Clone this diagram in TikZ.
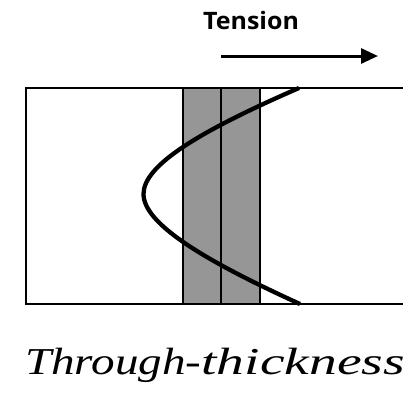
\documentclass[tikz,border=0pt]{standalone}
\usepackage{fontspec}
\setmainfont{Liberation Serif}
\newfontfamily\tensionfont[FakeStretch=1.04]{Open Sans}
\newfontfamily\captionfont[FakeStretch=1.24]{Liberation Serif}
\newfontfamily\captionwide[FakeStretch=1.46]{Liberation Serif}
\usetikzlibrary{arrows.meta}
\definecolor{stripgray}{RGB}{150,150,150}
\tikzset{
  frame/.style={draw=black, line width=2pt},
  strip/.style={draw=black, fill=stripgray, line width=2pt},
  stresscurve/.style={draw=black, line width=4.3pt},
  tensionarrow/.style={draw=black, line width=3pt, -{Triangle[length=17pt,width=15pt]}},
}
\begin{document}
\begin{tikzpicture}[x=1pt,y=-1pt]
\useasboundingbox (0,0) rectangle (403,397);
\clip (0,0) rectangle (403,397);
% strips
\path[strip] (183,88) rectangle (221,304);
\path[strip] (221,88) rectangle (260,304);
% frame
\draw[frame] (410,88) -- (26,88) -- (26,304) -- (410,304);
% curve
\coordinate (ctop) at (299,88);
\coordinate (cvertex) at (143.5,194);
\coordinate (cbottom) at (300,304);
\draw[stresscurve, line cap=butt] (ctop) .. controls (200,131) and (143.5,165) .. (cvertex)
  .. controls (143.5,223) and (201,259) .. (cbottom);
% tension label and arrow
\node[font=\tensionfont\bfseries\fontsize{24}{28}\selectfont, anchor=base west, inner sep=0pt] (tension) at (203,29.3) {Tension};
\coordinate (a1) at (221,56);
\coordinate (a2) at (378,56);
\draw[tensionarrow] (a1) -- (a2);
% caption
\node[font=\itshape\fontsize{38}{44}\selectfont, anchor=base west, inner sep=0pt] (caption) at (25,374.3) {{\captionfont\itshape Through-}{\captionwide\itshape thickness}};
\end{tikzpicture}
\end{document}
